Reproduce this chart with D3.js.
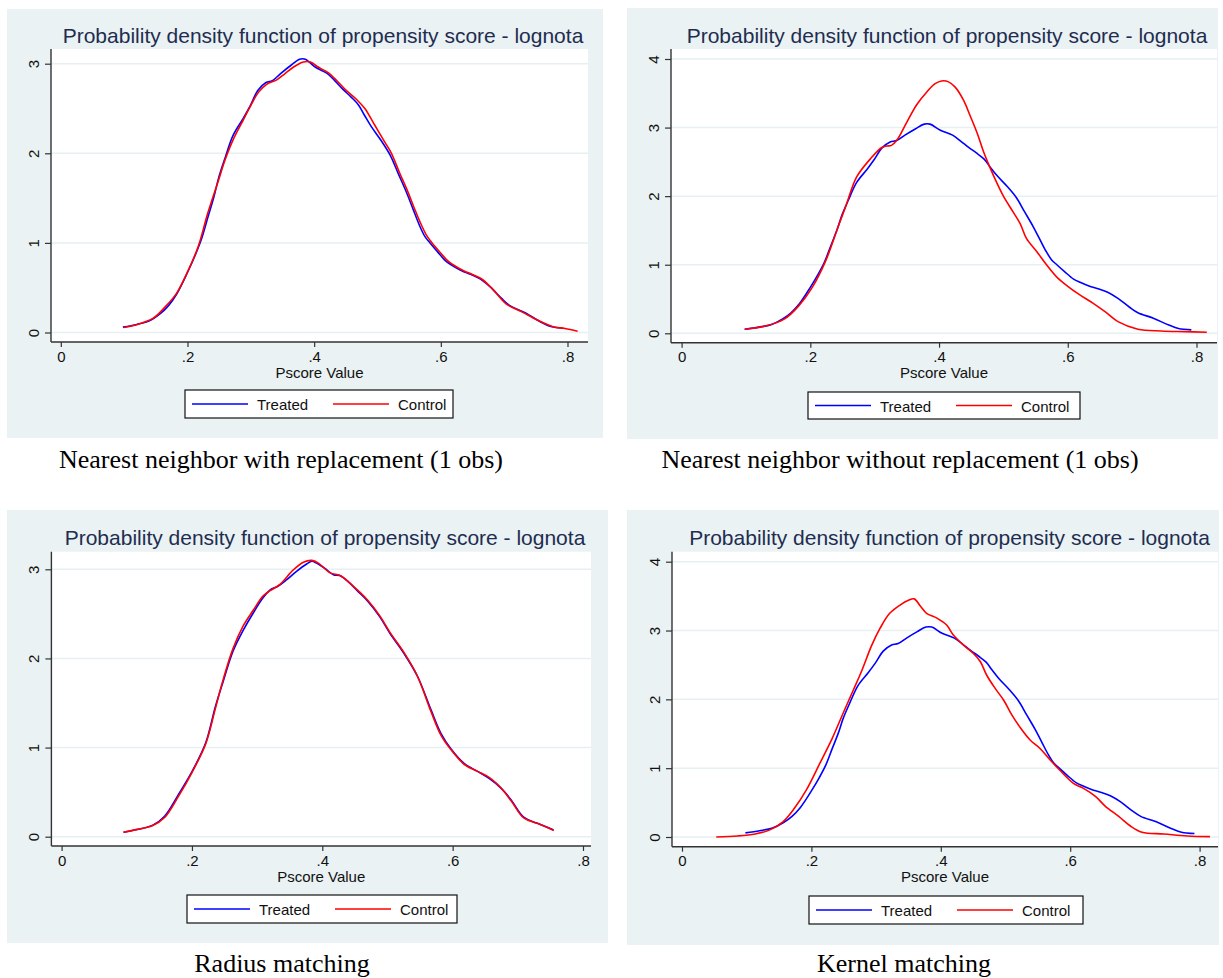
<!DOCTYPE html>
<html>
<head>
<meta charset="utf-8">
<script src="https://cdn.jsdelivr.net/npm/d3@7"></script>
<style>
  body { margin: 0; background: #fff; }
  text { font-family: "Liberation Sans", Arial, sans-serif; }
</style>
</head>
<body>
<script>
// density values, [pscore, density]
const treated = [[0.098,0.06],[0.12,0.09],[0.14,0.13],[0.157,0.21],[0.17,0.30],[0.183,0.43],[0.2,0.67],[0.212,0.86],[0.222,1.04],[0.232,1.28],[0.242,1.52],[0.249,1.72],[0.259,1.94],[0.272,2.20],[0.288,2.39],[0.299,2.53],[0.311,2.70],[0.324,2.79],[0.334,2.81],[0.347,2.89],[0.363,2.98],[0.377,3.05],[0.386,3.05],[0.402,2.96],[0.421,2.89],[0.434,2.80],[0.446,2.71],[0.458,2.63],[0.470,2.54],[0.479,2.43],[0.49,2.30],[0.506,2.14],[0.52,1.98],[0.533,1.77],[0.546,1.56],[0.556,1.38],[0.566,1.20],[0.575,1.07],[0.583,1.00],[0.595,0.90],[0.609,0.79],[0.62,0.74],[0.633,0.69],[0.647,0.65],[0.662,0.60],[0.678,0.51],[0.696,0.38],[0.709,0.30],[0.733,0.22],[0.757,0.12],[0.772,0.07],[0.792,0.05]];

const controlNNwith = [[0.099,0.056],[0.121,0.09],[0.146,0.16],[0.164,0.28],[0.183,0.44],[0.201,0.69],[0.217,0.96],[0.232,1.33],[0.249,1.70],[0.259,1.92],[0.272,2.15],[0.288,2.37],[0.299,2.52],[0.312,2.68],[0.325,2.77],[0.341,2.82],[0.354,2.89],[0.367,2.96],[0.383,3.02],[0.394,3.02],[0.407,2.96],[0.422,2.90],[0.436,2.81],[0.451,2.70],[0.467,2.60],[0.480,2.50],[0.496,2.31],[0.512,2.12],[0.522,2.0],[0.535,1.78],[0.548,1.57],[0.558,1.39],[0.568,1.22],[0.577,1.09],[0.585,1.01],[0.597,0.91],[0.611,0.80],[0.623,0.74],[0.636,0.69],[0.649,0.65],[0.664,0.60],[0.681,0.49],[0.703,0.32],[0.728,0.23],[0.752,0.14],[0.777,0.065],[0.796,0.045],[0.816,0.015]];

const controlNNwithout = [[0.098,0.06],[0.13,0.105],[0.16,0.21],[0.182,0.40],[0.203,0.67],[0.224,1.06],[0.243,1.55],[0.255,1.85],[0.272,2.28],[0.293,2.54],[0.311,2.71],[0.319,2.73],[0.326,2.74],[0.334,2.81],[0.350,3.08],[0.365,3.33],[0.381,3.52],[0.394,3.64],[0.404,3.68],[0.414,3.67],[0.425,3.59],[0.438,3.40],[0.448,3.18],[0.46,2.90],[0.469,2.65],[0.479,2.42],[0.490,2.19],[0.500,2.0],[0.515,1.77],[0.526,1.60],[0.536,1.38],[0.552,1.19],[0.567,1.00],[0.585,0.80],[0.598,0.70],[0.617,0.57],[0.639,0.44],[0.66,0.30],[0.678,0.17],[0.709,0.06],[0.745,0.034],[0.782,0.024],[0.816,0.015]];

const treatedRadius = [[0.095,0.049],[0.116,0.08],[0.14,0.13],[0.158,0.23],[0.179,0.47],[0.2,0.73],[0.221,1.05],[0.236,1.46],[0.247,1.72],[0.263,2.08],[0.279,2.32],[0.294,2.51],[0.309,2.68],[0.320,2.77],[0.332,2.81],[0.345,2.88],[0.361,2.98],[0.376,3.06],[0.384,3.09],[0.391,3.07],[0.404,3.01],[0.417,2.94],[0.427,2.93],[0.440,2.86],[0.455,2.75],[0.470,2.64],[0.488,2.47],[0.504,2.28],[0.525,2.06],[0.546,1.80],[0.567,1.42],[0.582,1.16],[0.597,0.99],[0.618,0.82],[0.639,0.73],[0.657,0.65],[0.675,0.54],[0.69,0.41],[0.709,0.22],[0.73,0.15],[0.755,0.075]];

const controlRadius = [[0.095,0.049],[0.116,0.082],[0.14,0.125],[0.158,0.215],[0.179,0.45],[0.2,0.72],[0.221,1.04],[0.236,1.44],[0.247,1.74],[0.263,2.11],[0.279,2.37],[0.294,2.54],[0.309,2.70],[0.320,2.76],[0.335,2.83],[0.355,2.99],[0.371,3.08],[0.384,3.10],[0.394,3.07],[0.412,2.96],[0.427,2.93],[0.440,2.86],[0.455,2.76],[0.470,2.65],[0.488,2.48],[0.504,2.29],[0.525,2.07],[0.546,1.80],[0.567,1.40],[0.582,1.14],[0.597,0.98],[0.618,0.81],[0.639,0.73],[0.657,0.66],[0.675,0.54],[0.69,0.40],[0.709,0.21],[0.73,0.15],[0.755,0.07]];

const controlKernel = [[0.053,0.0],[0.086,0.015],[0.113,0.044],[0.135,0.10],[0.156,0.22],[0.174,0.42],[0.192,0.68],[0.213,1.07],[0.232,1.43],[0.25,1.82],[0.265,2.14],[0.278,2.42],[0.293,2.78],[0.306,3.03],[0.321,3.25],[0.337,3.37],[0.350,3.44],[0.359,3.46],[0.368,3.36],[0.378,3.25],[0.394,3.18],[0.409,3.08],[0.419,2.94],[0.435,2.79],[0.450,2.67],[0.461,2.55],[0.471,2.35],[0.484,2.16],[0.497,1.99],[0.510,1.77],[0.522,1.60],[0.538,1.41],[0.553,1.29],[0.569,1.12],[0.584,0.97],[0.605,0.78],[0.62,0.71],[0.639,0.59],[0.654,0.45],[0.675,0.30],[0.693,0.16],[0.711,0.07],[0.745,0.044],[0.781,0.015],[0.816,0.005]];

const xTicks = [0, 0.2, 0.4, 0.6, 0.8];
const titleText = "Probability density function of propensity score - lognota";
const xLabel = "Pscore Value";
const seriesNames = ["Treated", "Control"];
const seriesColors = ["#0000ff", "#ff0000"];

const panels = [
  { bg: [7, 9, 603, 438], plot: [51, 49, 588, 342], xr: [60.8, 567.5], yr: [332.5, 63.7], yMax: 3,
    titleX: 323, titleY: 42.5, legend: [185, 390, 268, 28], cap: "Nearest neighbor with replacement (1 obs)", capX: 281, capY: 468,
    series: [treated, controlNNwith] },
  { bg: [627, 8, 1218, 439], plot: [671, 49, 1217, 342.7], xr: [681.6, 1196.5], yr: [333.3, 59], yMax: 4,
    titleX: 947, titleY: 42.5, legend: [808, 392, 272, 27], cap: "Nearest neighbor without replacement (1 obs)", capX: 900, capY: 468,
    series: [treated, controlNNwithout] },
  { bg: [7, 510, 608, 943], plot: [51.4, 551.7, 591, 846], xr: [61.6, 583], yr: [836.7, 569.3], yMax: 3,
    titleX: 325, titleY: 545, legend: [187, 895, 270, 28], cap: "Radius matching", capX: 282, capY: 972,
    series: [treatedRadius, controlRadius] },
  { bg: [627, 510, 1219, 945], plot: [672, 551.7, 1218, 846.7], xr: [682, 1199.6], yr: [837, 561.7], yMax: 4,
    titleX: 949.5, titleY: 545, legend: [809, 896, 274, 28], cap: "Kernel matching", capX: 904, capY: 972,
    series: [treated, controlKernel] }
];

const svg = d3.select("body").append("svg")
  .attr("width", 1223)
  .attr("height", 978);

panels.forEach(p => {
  const g = svg.append("g");
  const [l, t, r, b] = p.plot;

  g.append("rect")
    .attr("x", p.bg[0]).attr("y", p.bg[1])
    .attr("width", p.bg[2] - p.bg[0]).attr("height", p.bg[3] - p.bg[1])
    .attr("fill", "#eaf2f3");

  g.append("rect")
    .attr("x", l).attr("y", t)
    .attr("width", r - l).attr("height", b - t)
    .attr("fill", "#fff");

  const x = d3.scaleLinear().domain([0, 0.8]).range(p.xr);
  const y = d3.scaleLinear().domain([0, p.yMax]).range(p.yr);
  const yTicks = d3.range(0, p.yMax + 1);

  // gridlines
  g.append("g").selectAll("line")
    .data(yTicks)
    .join("line")
    .attr("x1", l).attr("x2", r)
    .attr("y1", d => y(d)).attr("y2", d => y(d))
    .attr("stroke", "#e6eff1")
    .attr("stroke-width", 1.5);

  // x axis
  const xAxis = g.append("g")
    .attr("transform", `translate(0,${b})`)
    .call(d3.axisBottom(x).tickValues(xTicks).tickSize(5).tickPadding(4)
      .tickFormat(d => d === 0 ? "0" : d3.format(".1f")(d).replace(/^0/, "")));
  xAxis.select(".domain").remove();
  xAxis.append("line").attr("x1", l).attr("x2", r).attr("stroke", "#333").attr("stroke-width", 1.4);
  xAxis.selectAll(".tick line").attr("stroke", "#333").attr("stroke-width", 1.2);
  xAxis.selectAll(".tick text")
    .attr("fill", "#111")
    .style("font-size", "15px")
    .style("font-family", "Liberation Sans, Arial, sans-serif");

  // y axis
  const yAxis = g.append("g")
    .attr("transform", `translate(${l},0)`)
    .call(d3.axisLeft(y).tickValues(yTicks).tickSize(6).tickFormat(d3.format("d")));
  yAxis.select(".domain").remove();
  yAxis.append("line").attr("y1", t).attr("y2", b).attr("stroke", "#333").attr("stroke-width", 1.4);
  yAxis.selectAll(".tick line").attr("stroke", "#333").attr("stroke-width", 1.2);
  yAxis.selectAll(".tick text")
    .attr("x", null).attr("dy", null)
    .attr("text-anchor", "middle")
    .attr("transform", "translate(-12,0) rotate(-90)")
    .attr("fill", "#111")
    .style("font-size", "15px")
    .style("font-family", "Liberation Sans, Arial, sans-serif");

  g.append("text")
    .attr("x", (l + r) / 2)
    .attr("y", b + 35.5)
    .attr("text-anchor", "middle")
    .attr("fill", "#111")
    .style("font-size", "15px")
    .text(xLabel);

  // density curves
  const line = d3.line()
    .x(d => x(d[0]))
    .y(d => y(d[1]))
    .curve(d3.curveCatmullRom);

  p.series.forEach((s, i) => {
    g.append("path")
      .datum(s)
      .attr("d", line)
      .attr("fill", "none")
      .attr("stroke", seriesColors[i])
      .attr("stroke-width", 1.6);
  });

  g.append("text")
    .attr("x", p.titleX)
    .attr("y", p.titleY)
    .attr("text-anchor", "middle")
    .attr("fill", "#1e2d50")
    .style("font-size", "21px")
    .text(titleText);

  // legend
  const [lx, ly, lw, lh] = p.legend;
  const leg = g.append("g").attr("transform", `translate(${lx},${ly})`);
  leg.append("rect")
    .attr("width", lw).attr("height", lh)
    .attr("fill", "#fff").attr("stroke", "#111").attr("stroke-width", 1.2);
  seriesNames.forEach((name, i) => {
    const ox = 7 + i * 141;
    leg.append("line")
      .attr("x1", ox).attr("x2", ox + 56)
      .attr("y1", lh / 2).attr("y2", lh / 2)
      .attr("stroke", seriesColors[i]).attr("stroke-width", 1.6);
    leg.append("text")
      .attr("x", ox + 65).attr("y", lh / 2 + 6)
      .attr("fill", "#111")
      .style("font-size", "15px")
      .text(name);
  });

  svg.append("text")
    .attr("x", p.capX)
    .attr("y", p.capY)
    .attr("text-anchor", "middle")
    .attr("fill", "#000")
    .style("font-family", "Liberation Serif, Times New Roman, serif")
    .style("font-size", "26px")
    .text(p.cap);
});
</script>
</body>
</html>
